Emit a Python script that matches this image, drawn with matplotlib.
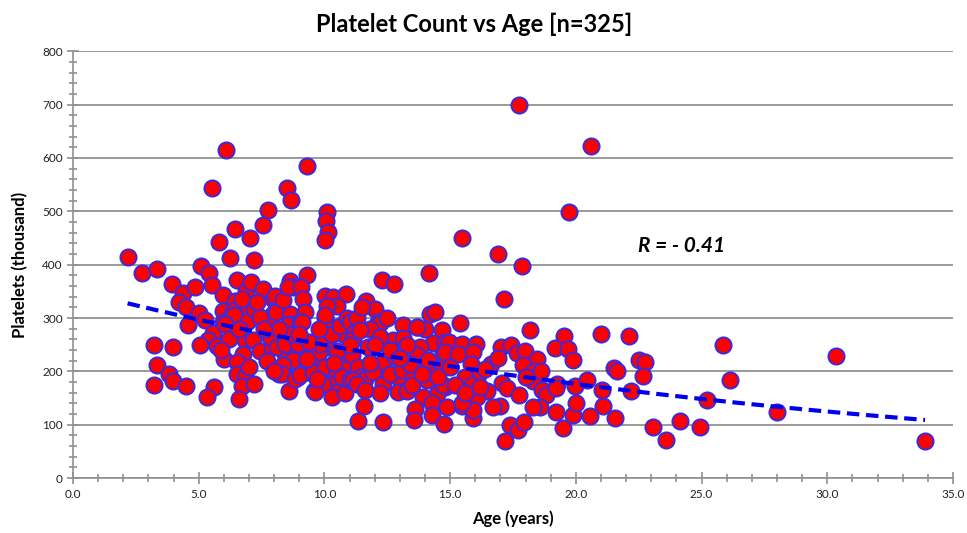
import numpy as np
import matplotlib
matplotlib.use("Agg")
import matplotlib.pyplot as plt
from matplotlib.ticker import MultipleLocator, FormatStrFormatter

plt.rcParams['font.family'] = ['Lato', 'DejaVu Sans']

# age (years) / platelets (thousand)
age_a = [2.17, 2.76, 3.33, 3.93, 4.39, 4.22, 4.85, 4.5, 4.56, 3.22, 3.96, 3.35, 3.83, 3.99, 3.23, 4.49]
plt_a = [414, 384, 392, 364, 347, 330, 359, 321, 287, 249, 245, 212, 196, 182, 174, 172]

age_b = [5.09, 5.42, 5.52, 5.82, 5.52, 6.09, 6.25, 6.44, 5.98, 6.44, 6.75, 5.95, 6.38, 5.95, 5.02, 5.25,
         5.58, 6.51, 6.87, 6.71, 6.42, 6.05, 5.38, 5.05, 5.71, 6.84, 6.75, 6.01, 6.51, 6.51, 6.84, 6.73,
         5.62, 5.34, 6.62, 6.97, 6.2, 6.6, 5.9]
plt_b = [398, 385, 362, 442, 543, 615, 412, 466, 344, 331, 311, 314, 314, 292, 309, 297,
         272, 372, 351, 336, 305, 289, 258, 249, 247, 258, 232, 224, 217, 196, 189, 173,
         170, 152, 149, 295, 260, 280, 240]

age_c = [7.04, 7.55, 7.74, 7.2, 7.07, 7.55, 7.21, 7.97, 8.17, 8.5, 8.66, 8.63, 8.76, 7.97, 7.84, 7.44,
         8.06, 7.17, 7.44, 7.9, 7.01, 7.2, 8.21, 8.6, 8.43, 8.43, 8.96, 8.63, 8.63, 8.03, 8.36, 8.57,
         7.84, 8.1, 8.9, 8.76, 8.36, 8.3, 8.83, 8.43, 8.96, 8.57, 8.7, 8.2, 7.6, 7.3, 7.7, 8.0]
plt_c = [450, 474, 502, 409, 367, 355, 316, 336, 326, 543, 521, 370, 358, 308, 289, 301,
         311, 259, 239, 245, 209, 176, 196, 163, 233, 211, 189, 308, 288, 342, 333, 286,
         264, 245, 239, 221, 211, 196, 186, 252, 252, 358, 270, 280, 280, 330, 220, 200]

age_d = [9.31, 10.09, 10.06, 10.13, 10.02, 9.3, 9.06, 9.16, 9.23, 9.03, 9.1, 9.59, 9.3, 9.5, 9.3, 9.69,
         9.76, 10.02, 10.36, 10.86, 10.49, 10.09, 10.02, 10.09, 9.56, 10.16, 10.06, 9.8, 9.03, 9.56, 10.02,
         10.49, 10.89, 10.69, 10.22, 10.49, 10.29, 9.96, 9.63, 9.82, 10.49, 10.69, 10.75, 9.3, 10.02,
         10.3, 10.6, 10.9, 10.4, 9.8, 9.4, 9.0, 9.7, 10.8]
plt_d = [585, 499, 482, 462, 447, 381, 359, 336, 311, 292, 292, 163, 199, 208, 221, 227,
         199, 342, 339, 345, 323, 323, 300, 289, 239, 261, 245, 236, 193, 199, 208,
         199, 214, 233, 177, 161, 152, 177, 161, 252, 239, 189, 270, 224, 305,
         270, 285, 300, 215, 280, 255, 270, 185, 160]

age_e = [11.02, 11.28, 11.65, 12.01, 12.14, 12.2, 11.81, 11.22, 11.15, 11.75, 12.28, 12.77, 12.47, 12.72,
         11.09, 11.35, 11.02, 11.42, 11.62, 12.08, 12.34, 11.95, 12.34, 12.94, 11.15, 11.28, 11.42, 12.21,
         12.81, 11.35, 11.59, 12.34, 12.94, 11.5, 12.5, 12.0, 12.6, 12.6, 12.2, 11.8, 11.0, 11.6]
plt_e = [292, 300, 331, 317, 292, 290, 280, 273, 261, 245, 371, 364, 250, 259,
         230, 208, 183, 189, 186, 208, 217, 199, 177, 189, 183, 177, 277, 264,
         227, 107, 135, 105, 161, 320, 300, 250, 240, 195, 160, 215, 250, 165]

age_f = [13.11, 13.14, 13.67, 14.0, 14.2, 14.4, 14.66, 14.33, 14.8, 13.8, 14.73, 13.67, 14.17, 13.07,
         13.27, 13.54, 14.07, 13.8, 14.33, 14.73, 14.8, 14.47, 13.94, 14.27, 13.6, 14.27, 14.77, 13.56,
         13.4, 14.13, 14.86, 14.97, 14.8, 14.73, 13.7, 13.3, 13.0, 13.5, 13.9, 14.5]
plt_f = [286, 263, 284, 280, 307, 312, 277, 253, 255, 245, 233, 230, 384, 202,
         164, 189, 183, 208, 208, 208, 171, 158, 152, 140, 130, 118, 102, 108,
         214, 221, 133, 255, 236, 174, 283, 250, 225, 175, 195, 190]

age_g = [15.46, 16.92, 17.16, 15.39, 15.46, 16.03, 15.33, 15.92, 15.83, 15.0, 16.63, 16.12, 15.59, 15.86,
         16.46, 16.06, 15.46, 15.92, 15.92, 15.46, 16.98, 16.72, 16.19, 17.02, 17.05, 15.2, 15.6, 16.4, 16.9]
plt_g = [450, 419, 336, 290, 252, 252, 233, 236, 213, 208, 213, 193, 189, 174,
         163, 152, 136, 112, 127, 140, 135, 133, 171, 245, 178, 175, 160, 205, 225]

age_h = [17.87, 17.74, 18.18, 19.54, 19.17, 19.7, 19.9, 17.41, 17.67, 17.98, 18.44, 17.91, 18.35, 17.25,
         17.75, 18.29, 18.64, 18.81, 19.24, 19.97, 19.74, 19.21, 18.58, 18.31, 17.18, 17.38, 17.71, 17.94,
         19.21, 19.88, 19.5, 20.01, 18.0, 18.6]
plt_h = [397, 699, 278, 267, 244, 242, 221, 249, 234, 239, 224, 211, 201, 168,
         155, 182, 166, 155, 177, 172, 498, 168, 133, 133, 69, 99, 91, 105,
         124, 118, 93, 141, 190, 200]

age_i = [20.6, 21.0, 22.13, 22.53, 22.75, 21.52, 21.65, 22.66, 20.43, 21.03, 22.18, 20.57, 21.09, 21.56,
         25.87, 30.35, 26.13, 25.2, 28.02, 23.08, 23.59, 24.14, 24.94, 33.89]
plt_i = [622, 270, 267, 221, 217, 207, 201, 191, 183, 166, 163, 116, 135, 112,
         250, 229, 184, 146, 124, 96, 72, 107, 96, 69]

age = np.array(age_a + age_b + age_c + age_d + age_e + age_f + age_g + age_h + age_i)
platelets = np.array(plt_a + plt_b + plt_c + plt_d + plt_e + plt_f + plt_g + plt_h + plt_i)

r_text = "R = - 0.41"

fig = plt.figure(figsize=(9.67, 5.33), dpi=100)
ax = fig.add_axes([0.0755, 0.103, 0.91, 0.801])

ax.scatter(age, platelets, s=135, facecolor='#ff0000', edgecolor='#3a2ae0', linewidth=1.4, zorder=3)

# exponential trendline (least squares on log y)
b, ln_a = np.polyfit(age, np.log(platelets), 1)
xs = np.linspace(age.min(), age.max(), 200)
ax.plot(xs, np.exp(ln_a) * np.exp(b * xs), color='#0000ee', linewidth=3, linestyle=(0, (3, 1.6)), zorder=4)

ax.set_xlim(0, 35)
ax.set_ylim(0, 800)
ax.xaxis.set_major_locator(MultipleLocator(5))
ax.xaxis.set_minor_locator(MultipleLocator(1))
ax.yaxis.set_major_locator(MultipleLocator(100))
ax.yaxis.set_minor_locator(MultipleLocator(20))
ax.xaxis.set_major_formatter(FormatStrFormatter('%.1f'))

ax.grid(axis='y', color='#9a9a9a', linewidth=1.4, zorder=0)
ax.set_axisbelow(True)
for s in ['top', 'right']:
    ax.spines[s].set_visible(False)
for s in ['left', 'bottom']:
    ax.spines[s].set_color('#909090')
    ax.spines[s].set_linewidth(1.2)

ax.tick_params(which='both', direction='inout', color='#909090', width=1.2)
ax.tick_params(which='major', length=8, labelsize=8.5, labelcolor='#222222')
ax.tick_params(which='minor', length=6)

fig.text(0.49, 0.955, "Platelet Count vs Age [n=325]", fontsize=17, fontweight='bold',
         ha='center', va='center')
ax.set_xlabel("Age (years)", fontsize=12, fontweight='bold', labelpad=8)
ax.set_ylabel("Platelets (thousand)", fontsize=12, fontweight='bold', labelpad=10)

ax.text(24.2, 434, r_text, fontsize=15, fontweight='bold', style='italic', ha='center', va='center')

fig.savefig("out.png", dpi=100)
